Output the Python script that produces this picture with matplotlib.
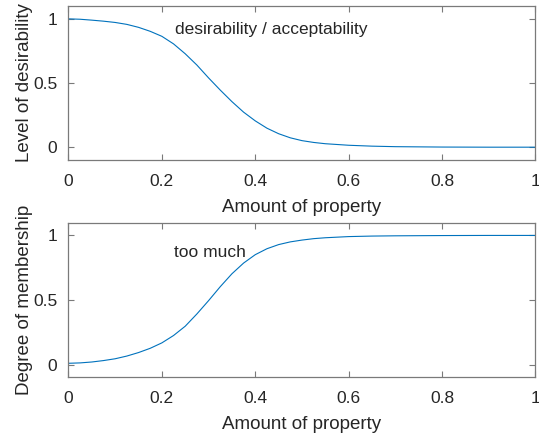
import numpy as np
import matplotlib
matplotlib.use('Agg')
import matplotlib.pyplot as plt

plt.rcParams['font.family'] = ['Liberation Sans', 'DejaVu Sans']

# Amount of property (x positions)
amount = [0, 0.025, 0.05, 0.075, 0.1, 0.125, 0.15, 0.175, 0.2, 0.225, 0.25,
          0.275, 0.3, 0.325, 0.35, 0.375, 0.4, 0.425, 0.45, 0.475, 0.5,
          0.525, 0.55, 0.6, 0.65, 0.7, 0.8, 0.9, 1.0]

# Level of desirability (top panel)
desirability = [1.0, 0.997, 0.99, 0.982, 0.972, 0.957, 0.934, 0.903, 0.864,
                0.805, 0.728, 0.64, 0.54, 0.445, 0.355, 0.273, 0.205, 0.148,
                0.105, 0.073, 0.051, 0.037, 0.027, 0.015, 0.008, 0.004,
                0.001, 0.0, 0.0]

# Degree of membership "too much" (bottom panel)
membership = [0.01, 0.013, 0.02, 0.031, 0.045, 0.066, 0.093, 0.126, 0.168,
              0.225, 0.297, 0.392, 0.495, 0.603, 0.703, 0.786, 0.851, 0.897,
              0.929, 0.95, 0.964, 0.975, 0.982, 0.991, 0.995, 0.997, 0.999,
              1.0, 1.0]

xticks = [0, 0.2, 0.4, 0.6, 0.8, 1]
xticklabels = ['0', '0.2', '0.4', '0.6', '0.8', '1']
yticks = [0, 0.5, 1]
yticklabels = ['0', '0.5', '1']

line_color = '#0072BD'
text_color = '#262626'
box_color = '#7a7a7a'

fig = plt.figure(figsize=(5.39, 4.34), dpi=100)
ax1 = fig.add_axes([0.127, 0.6313, 0.8665, 0.3548])
ax2 = fig.add_axes([0.127, 0.1302, 0.8665, 0.3571])


def style(ax, ylabel, note, note_xy):
    ax.set_xlim(0, 1)
    ax.set_ylim(-0.1, 1.1)
    ax.set_xticks(xticks)
    ax.set_xticklabels(xticklabels)
    ax.set_yticks(yticks)
    ax.set_yticklabels(yticklabels)
    ax.tick_params(direction='in', length=4, width=0.8, color=box_color,
                   labelcolor=text_color, labelsize=12.5, top=True, right=True)
    ax.tick_params(axis='x', pad=10)
    ax.tick_params(axis='y', pad=8)
    for s in ax.spines.values():
        s.set_color(box_color)
        s.set_linewidth(0.9)
    ax.set_xlabel('Amount of property', fontsize=13.5, color=text_color, labelpad=7)
    ax.set_ylabel(ylabel, fontsize=13.5, color=text_color, labelpad=0)
    ax.text(note_xy[0], note_xy[1], note, fontsize=12.5, color=text_color,
            va='center', ha='left')


ax1.plot(amount, desirability, color=line_color, linewidth=0.8)
style(ax1, 'Level of desirability', 'desirability / acceptability', (0.228, 0.92))

ax2.plot(amount, membership, color=line_color, linewidth=0.8)
style(ax2, 'Degree of membership', 'too much', (0.226, 0.87))

fig.savefig('out.png', dpi=100)
